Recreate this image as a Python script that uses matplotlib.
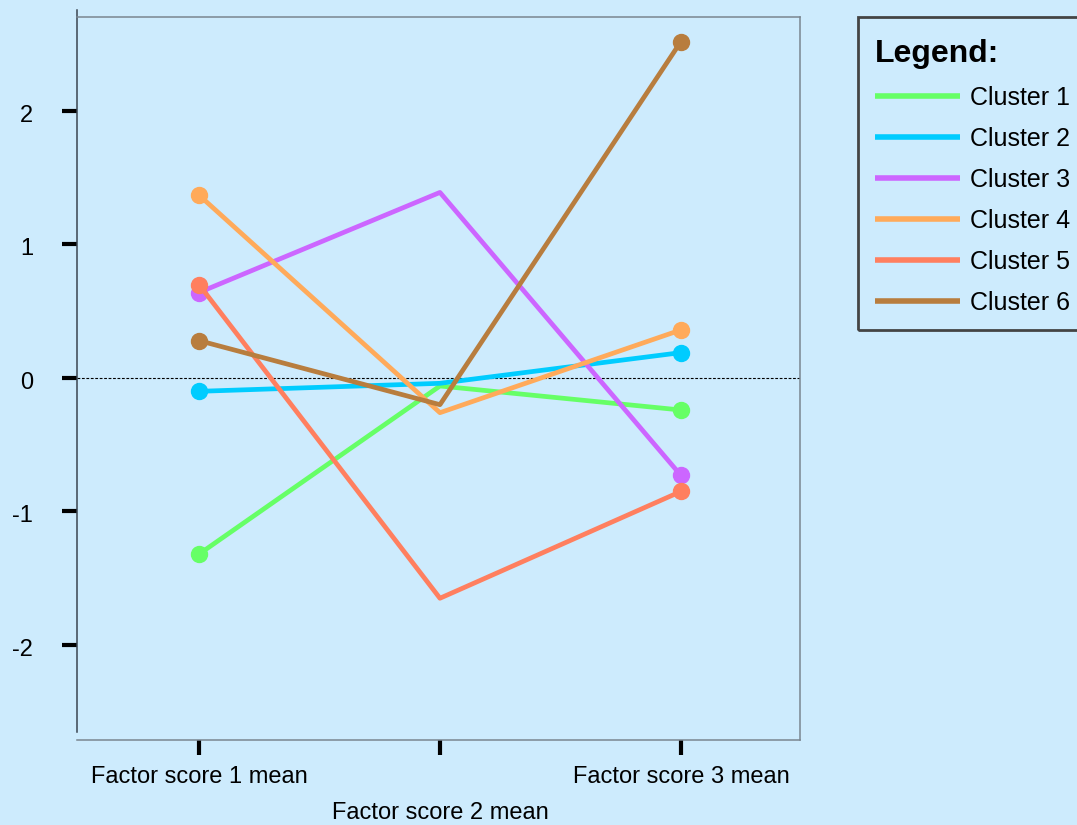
import matplotlib.pyplot as plt
from matplotlib.patches import Rectangle
from matplotlib.transforms import ScaledTranslation

plt.rcParams['font.family'] = ['Liberation Sans', 'DejaVu Sans']

# data
factors = ['Factor score 1 mean', 'Factor score 2 mean', 'Factor score 3 mean']
clusters = ['Cluster 1', 'Cluster 2', 'Cluster 3', 'Cluster 4', 'Cluster 5', 'Cluster 6']
cluster1 = [-1.32, -0.06, -0.24]
cluster2 = [-0.10, -0.04, 0.19]
cluster3 = [0.64, 1.39, -0.73]
cluster4 = [1.37, -0.26, 0.36]
cluster5 = [0.70, -1.65, -0.85]
cluster6 = [0.28, -0.20, 2.52]
colours = ['#66ff66', '#00ccff', '#cc66ff', '#ffaa5a', '#ff7f5f', '#b87d3e']
yticks = [-2, -1, 0, 1, 2]

bg = '#cdebfd'
W, H = 1077, 825
fig = plt.figure(figsize=(W / 100, H / 100), dpi=100, facecolor=bg)
ax = fig.add_axes([0.0715, 0.1030, 0.6713, 0.8764], facecolor=bg)

x = [1, 2, 3]
for name, vals, c in zip(clusters, [cluster1, cluster2, cluster3, cluster4, cluster5, cluster6], colours):
    ax.plot(x, vals, color=c, lw=3.4, marker='o', ms=11.5, markevery=[0, 2],
            label=name, solid_capstyle='butt')

ax.axhline(0, color='black', lw=0.8, ls=(0, (2.5, 1.5)), zorder=0)

ax.set_xlim(0.494, 3.494)
ax.set_ylim(-2.712, 2.704)
ax.set_xticks(x)
ax.set_xticklabels(factors)
ax.set_yticks(yticks)
ax.set_yticklabels([str(v) for v in yticks])
ax.tick_params(axis='both', direction='out', length=10.5, width=3, color='black',
               labelsize=17)
ax.tick_params(axis='y', pad=21)
ax.tick_params(axis='x', pad=8)
ax.xaxis.get_major_ticks()[1].set_pad(34)
shift = ScaledTranslation(0, -2.5 / 100, fig.dpi_scale_trans)
for lbl in ax.get_yticklabels():
    lbl.set_transform(lbl.get_transform() + shift)

for side in ['top', 'right', 'bottom']:
    ax.spines[side].set_color('#7a8690')
    ax.spines[side].set_linewidth(1.1)
ax.spines['left'].set_color('#3a4550')
ax.spines['left'].set_linewidth(1.1)
ax.spines['left'].set_bounds(-2.652, 2.757)

# legend box drawn separately
fig.patches.append(Rectangle((858 / W, 1 - 330 / H), (1085 - 858) / W, (330 - 17) / H,
                             transform=fig.transFigure, facecolor='none',
                             edgecolor='#444444', lw=2, zorder=5))
leg = ax.legend(loc='upper left', bbox_to_anchor=(875 / W, 1 - 39 / H),
                bbox_transform=fig.transFigure, title='Legend:', alignment='left',
                fontsize=18, title_fontproperties={'weight': 'bold', 'size': 23},
                frameon=False, handlelength=3.4, handletextpad=0.4,
                labelspacing=0.68, borderpad=0, borderaxespad=0)
for h in leg.legend_handles:
    h.set_marker('')
    h.set_linewidth(4)

fig.savefig('out.png', dpi=100, facecolor=bg)
